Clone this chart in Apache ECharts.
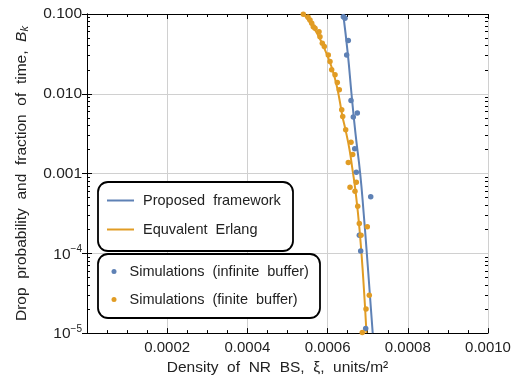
<!DOCTYPE html>
<html>
<head>
<meta charset="utf-8">
<script src="https://cdn.jsdelivr.net/npm/echarts@6/dist/echarts.min.js"></script>
<style>html,body{margin:0;padding:0;background:#fff}#c{width:524px;height:381px}</style>
</head>
<body>
<div id="c"></div>
<script>
// ---- data ----
const blueLineX = [0.0006389, 0.0006504, 0.0006596, 0.0006696, 0.0006813, 0.00069, 0.0006978, 0.0007052, 0.0007125];
const blueLineY = [0.1, 0.0316, 0.01, 0.00316, 0.001, 0.000316, 0.0001, 0.0000316, 0.00001];
const orangeLineX = [0.0005399, 0.0005511, 0.0005686, 0.0005823, 0.0005935, 0.0006035, 0.0006122, 0.0006222, 0.0006297, 0.0006372, 0.0006446, 0.0006546, 0.0006621, 0.0006691, 0.0006796, 0.000689, 0.000697];
const orangeLineY = [0.1, 0.0841, 0.0631, 0.0473, 0.0355, 0.0266, 0.02, 0.01296, 0.00841, 0.00516, 0.00355, 0.002, 0.00112, 0.000631, 0.0002, 0.0000473, 0.00001];
const blueSimX = [0.0006392, 0.0006434, 0.0006516, 0.0006476, 0.0006584, 0.0006741, 0.0006641, 0.0006676, 0.0006716, 0.0007075, 0.0006791, 0.0006825, 0.000695];
const blueSimY = [0.0925, 0.0883, 0.0464, 0.0307, 0.00824, 0.00574, 0.00511, 0.00204, 0.00104, 0.000511, 0.000169, 0.000107, 0.00001146];
const orangeSimX = [0.0005394, 0.0005511, 0.0005561, 0.0005604, 0.0005643, 0.0005686, 0.0005786, 0.000581, 0.0005868, 0.0005918, 0.0006017, 0.000606, 0.0006102, 0.0006185, 0.0006242, 0.0006292, 0.0006352, 0.0006377, 0.0006451, 0.0006584, 0.0006626, 0.0006516, 0.0006716, 0.0006559, 0.0006683, 0.0006751, 0.0006791, 0.000699, 0.0006833, 0.000704, 0.0006958, 0.0006865];
const orangeSimY = [0.0995, 0.0918, 0.0841, 0.0765, 0.0694, 0.0663, 0.0601, 0.052, 0.043, 0.039, 0.0307, 0.0253, 0.02, 0.0173, 0.01385, 0.0112, 0.00631, 0.0052, 0.00355, 0.00246, 0.00173, 0.00138, 0.000778, 0.000674, 0.000601, 0.00039, 0.000237, 0.000216, 0.000168, 0.0000299, 0.00002, 0.0000102];
const xTickInterval = 0.0002;
const yMajorTicks = [0.00001, 0.0001, 0.001, 0.01, 0.1];
const yTickLabels = ['{b|10}{s|\u22125}', '{b|10}{s|\u22124}', '0.001', '0.010', '0.100'];
const yMinorTicks = [];
[0.00001, 0.0001, 0.001, 0.01].forEach(d => { for (let k = 2; k <= 9; k++) yMinorTicks.push(+(d * k).toPrecision(3)); });
const seriesNames = ['Proposed framework', 'Equvalent Erlang', 'Simulations (infinite buffer)', 'Simulations (finite buffer)'];

const BLUE = '#5E81B5', ORANGE = '#E19C24';
const FONT = 'Liberation Sans';
const zip = (a, b) => a.map((v, i) => [v, b[i]]);
const wide = s => s.replace(/ /g, '  ');

const chart = echarts.init(document.getElementById('c'), null, {renderer: 'canvas'});
const yBase = {
  type: 'log', min: 0.00001, max: 0.1, logBase: 10, gridIndex: 0
};
chart.setOption({
  animation: false,
  backgroundColor: '#fff',
  textStyle: {fontFamily: FONT},
  grid: {left: 87, right: 36, top: 14, bottom: 47, containLabel: false},
  xAxis: [{
    type: 'value', min: 0, max: 0.001, interval: xTickInterval,
    name: wide('Density of NR BS, \u03BE, units/m\u00B2'), nameLocation: 'middle', nameGap: 19,
    nameTextStyle: {fontSize: 15.5, color: '#222', fontFamily: FONT, padding: [0, 20, 0, 0]},
    axisLine: {lineStyle: {color: '#000', width: 1}},
    axisTick: {inside: true, length: 5, lineStyle: {color: '#000'}},
    minorTick: {show: true, splitNumber: 4, length: 3, lineStyle: {color: '#000'}},
    splitLine: {show: true, lineStyle: {color: '#d0d0d0', width: 1}},
    axisLabel: {fontSize: 15, color: '#222', margin: 7, fontFamily: FONT,
      formatter: v => v === 0 ? '' : v.toFixed(4)}
  }, {
    type: 'value', min: 0, max: 0.001, interval: xTickInterval, position: 'top',
    axisLine: {lineStyle: {color: '#000', width: 1}},
    axisTick: {inside: true, length: 5, lineStyle: {color: '#000'}},
    minorTick: {show: true, splitNumber: 4, length: 3, lineStyle: {color: '#000'}},
    splitLine: {show: false}, axisLabel: {show: false}
  }],
  yAxis: [Object.assign({}, yBase, {
    position: 'left',
    name: '{a|' + wide('Drop probability and fraction of time, ') + '}{b|B}{c|k}',
    nameLocation: 'middle', nameGap: 57, nameRotate: 90,
    nameTextStyle: {fontSize: 15.5, color: '#222', fontFamily: FONT,
      rich: {a: {fontSize: 15.5, color: '#222', fontFamily: FONT},
             b: {fontSize: 15.5, color: '#222', fontStyle: 'italic', fontFamily: FONT},
             c: {fontSize: 11, color: '#222', fontStyle: 'italic', fontFamily: FONT, padding: [6, 0, 0, 0]}}},
    axisLine: {show: true, lineStyle: {color: '#000', width: 1}},
    axisTick: {show: true, inside: true, length: 5, lineStyle: {color: '#000'}},
    splitLine: {show: true, lineStyle: {color: '#d0d0d0', width: 1}},
    axisLabel: {fontSize: 15.5, color: '#222', margin: 5, fontFamily: FONT,
      formatter: v => { const i = yMajorTicks.findIndex(t => Math.abs(Math.log10(t) - Math.log10(v)) < 1e-6); return i >= 0 ? yTickLabels[i] : ''; },
      rich: {b: {fontSize: 15.5, color: '#222', fontFamily: FONT, verticalAlign: 'bottom', lineHeight: 18},
             s: {fontSize: 10, color: '#222', fontFamily: FONT, verticalAlign: 'top', lineHeight: 18}}}
  }), Object.assign({}, yBase, {
    position: 'right',
    axisLine: {show: true, lineStyle: {color: '#000', width: 1}},
    axisTick: {show: true, inside: true, length: 5, lineStyle: {color: '#000'}},
    splitLine: {show: false}, axisLabel: {show: false}
  }), Object.assign({}, yBase, {
    position: 'left',
    axisLine: {show: false},
    axisTick: {show: true, inside: true, length: 3, customValues: yMinorTicks, lineStyle: {color: '#000'}},
    splitLine: {show: false}, axisLabel: {show: false}
  }), Object.assign({}, yBase, {
    position: 'right',
    axisLine: {show: false},
    axisTick: {show: true, inside: true, length: 3, customValues: yMinorTicks, lineStyle: {color: '#000'}},
    splitLine: {show: false}, axisLabel: {show: false}
  })],
  graphic: [
    {type: 'rect', z: 50, shape: {x: 98, y: 182, width: 195, height: 69, r: 10},
     style: {fill: '#fff', stroke: '#000', lineWidth: 1.8}},
    {type: 'rect', z: 50, shape: {x: 98, y: 254, width: 222, height: 64, r: 10},
     style: {fill: '#fff', stroke: '#000', lineWidth: 1.8}}
  ],
  legend: [{
    z: 60, orient: 'vertical', left: 107, top: 192, padding: 0, itemGap: 12,
    data: [seriesNames[0], seriesNames[1]], icon: 'rect', itemWidth: 27, itemHeight: 2,
    formatter: wide,
    textStyle: {fontSize: 14.5, color: '#222', fontFamily: FONT, lineHeight: 17, padding: [0, 0, 0, 4]},
    selectedMode: false
  }, {
    z: 60, orient: 'vertical', left: 111.5, top: 263, padding: 0, itemGap: 11,
    data: [seriesNames[2], seriesNames[3]], icon: 'circle', itemWidth: 5, itemHeight: 5,
    formatter: wide,
    textStyle: {fontSize: 14.5, color: '#222', fontFamily: FONT, lineHeight: 17, padding: [0, 0, 0, 8]},
    selectedMode: false
  }],
  series: [{
    name: seriesNames[0], type: 'line', xAxisIndex: 0, yAxisIndex: 0,
    data: zip(blueLineX, blueLineY), showSymbol: false, smooth: true,
    lineStyle: {color: BLUE, width: 2}, itemStyle: {color: BLUE}, z: 3
  }, {
    name: seriesNames[1], type: 'line', xAxisIndex: 0, yAxisIndex: 0,
    data: zip(orangeLineX, orangeLineY), showSymbol: false, smooth: true,
    lineStyle: {color: ORANGE, width: 2}, itemStyle: {color: ORANGE}, z: 3
  }, {
    name: seriesNames[2], type: 'scatter', xAxisIndex: 0, yAxisIndex: 0,
    data: zip(blueSimX, blueSimY), symbolSize: 5.5, itemStyle: {color: BLUE, opacity: 1}, z: 4
  }, {
    name: seriesNames[3], type: 'scatter', xAxisIndex: 0, yAxisIndex: 0,
    data: zip(orangeSimX, orangeSimY), symbolSize: 5.5, itemStyle: {color: ORANGE, opacity: 1}, z: 4
  }]
});
</script>
</body>
</html>
